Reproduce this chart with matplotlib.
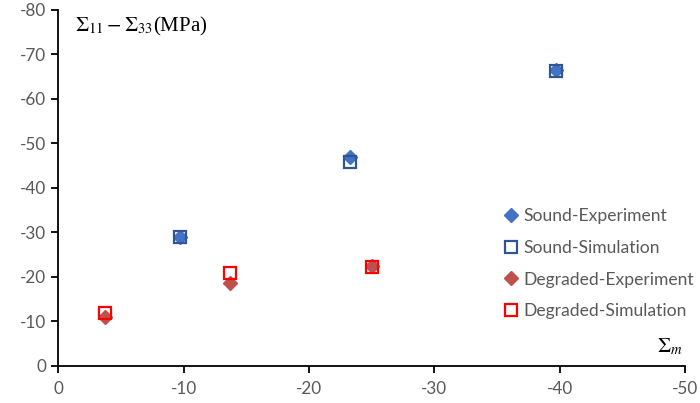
import matplotlib.pyplot as plt

plt.rcParams['mathtext.fontset'] = 'stix'

# mean stress vs. deviatoric stress, sound and degraded specimens
sound_exp_x = [-9.7, -23.3, -39.7]
sound_exp_y = [-29.0, -46.9, -66.5]
sound_sim_x = [-9.7, -23.3, -39.7]
sound_sim_y = [-29.0, -45.7, -66.3]
degr_exp_x = [-3.7, -13.7, -25.0]
degr_exp_y = [-11.0, -18.5, -22.3]
degr_sim_x = [-3.7, -13.7, -25.0]
degr_sim_y = [-11.8, -20.7, -22.2]

x_ticks = [0, -10, -20, -30, -40, -50]
y_ticks = [0, -10, -20, -30, -40, -50, -60, -70, -80]

grey = '#595959'

fig = plt.figure(figsize=(7, 4.03), dpi=100)
ax = fig.add_axes([0.083, 0.093, 0.896, 0.883])

ax.plot(sound_exp_x, sound_exp_y, 'D', ms=7.2, color='#4472C4', mec='#4472C4',
        label='Sound-Experiment', zorder=3)
ax.plot(sound_sim_x, sound_sim_y, 's', ms=9, mfc='none', mec='#2F5597', mew=1.6,
        label='Sound-Simulation', zorder=4)
ax.plot(degr_exp_x, degr_exp_y, 'D', ms=7.2, color='#C0504D', mec='#C0504D',
        label='Degraded-Experiment', zorder=3)
ax.plot(degr_sim_x, degr_sim_y, 's', ms=9, mfc='none', mec='#FF0000', mew=1.6,
        label='Degraded-Simulation', zorder=4)

ax.set_xlim(0, -50)
ax.set_ylim(0, -80)
ax.set_xticks(x_ticks)
ax.set_yticks(y_ticks)
ax.set_xticklabels([str(v) for v in x_ticks])
ax.set_yticklabels([str(v) for v in y_ticks])

for side in ['top', 'right']:
    ax.spines[side].set_visible(False)
for side in ['left', 'bottom']:
    ax.spines[side].set_linewidth(1.3)
    ax.spines[side].set_color('black')

ax.tick_params(direction='out', length=5, width=1.3, colors='black',
               labelcolor=grey, labelsize=12.3)
for lab in ax.get_xticklabels() + ax.get_yticklabels():
    lab.set_family('Lato')
ax.tick_params(axis='x', pad=6)

ax.text(0.027, 0.985, r'$\Sigma_{11}-\Sigma_{33}$(MPa)', transform=ax.transAxes,
        fontsize=15, family='Liberation Serif', va='top', ha='left')
ax.text(0.955, 0.025, r'$\Sigma_m$', transform=ax.transAxes,
        fontsize=15, va='bottom', ha='left')

leg = ax.legend(loc='upper left', bbox_to_anchor=(0.7, 0.462), frameon=False,
                handlelength=0.8, handletextpad=0.3, labelspacing=0.9,
                prop={'family': 'Lato', 'size': 12.6}, borderaxespad=0)
for t in leg.get_texts():
    t.set_color(grey)

fig.savefig('out.png', dpi=100)
